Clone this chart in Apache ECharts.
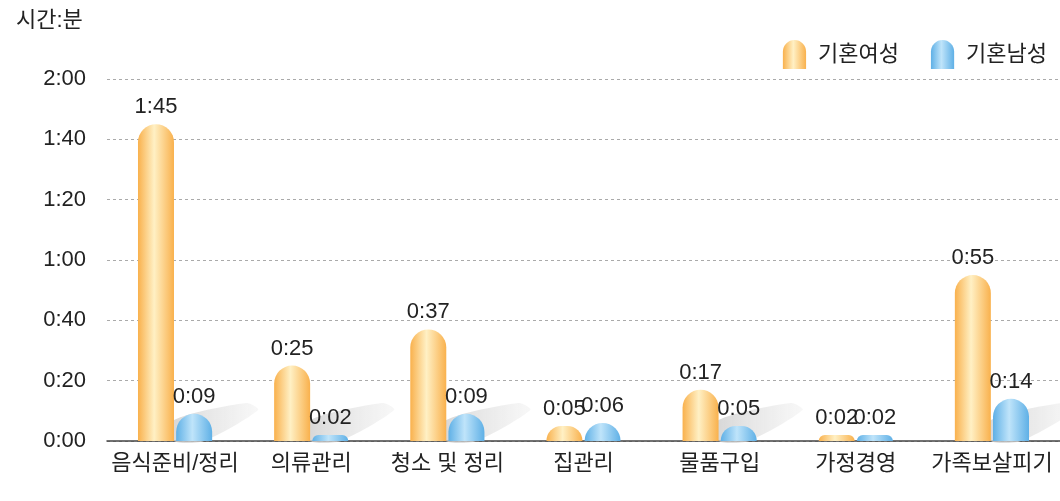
<!DOCTYPE html>
<html>
<head>
<meta charset="utf-8">
<script src="https://cdn.jsdelivr.net/npm/echarts@6/dist/echarts.min.js"></script>
<style>
  html, body { margin: 0; padding: 0; background: #fff; }
  #chart { width: 1060px; height: 501px; }
</style>
</head>
<body>
<div id="chart"></div>
<script>
// 시간 (분 단위)
const categories = ['음식준비/정리', '의류관리', '청소 및 정리', '집관리', '물품구입', '가정경영', '가족보살피기']
const women = [105, 25, 37, 5, 17, 2, 55]
const men = [9, 2, 9, 6, 5, 2, 14]
const yTicks = [0, 20, 40, 60, 80, 100, 120]

const FONT = '"Liberation Sans", "Noto Sans CJK KR", sans-serif'
const BAR_W = 36

function hm (v) {
  const h = Math.floor(v / 60)
  const m = v % 60
  return h + ':' + (m < 10 ? '0' + m : m)
}

function barGrad (edge, mid) {
  return new echarts.graphic.LinearGradient(0, 0, 1, 0, [
    { offset: 0, color: edge },
    { offset: 0.45, color: mid },
    { offset: 1, color: edge }
  ])
}

const orange = barGrad('#f9b14d', '#fff0c4')
const blue = barGrad('#5fb0e6', '#bfe4fa')
const iconPath = 'path://M0,12 A12,12 0 0 1 24,12 L24,30 L0,30 Z'

// 막대 뒤 회색 그림자
function shadowItem (params, api) {
  const v = api.value(1)
  const base = api.coord([api.value(0), 0])
  const top = api.coord([api.value(0), v])
  const barPx = base[1] - top[1]
  if (barPx < 30) return null
  const hs = Math.min(barPx, 38)
  const x0 = base[0] - 1
  const y0 = base[1]
  return {
    type: 'polygon',
    shape: {
      points: [
        [x0, y0 - hs * 0.55],
        [x0 + 72, y0 - hs],
        [x0 + 84, y0 - hs + 7],
        [x0 + 30, y0],
        [x0, y0]
      ],
      smooth: 0.25
    },
    style: {
      fill: new echarts.graphic.LinearGradient(0, 0, 1, 0, [
        { offset: 0, color: 'rgba(205,205,205,0.8)' },
        { offset: 1, color: 'rgba(240,240,240,0.5)' }
      ])
    },
    z2: 0
  }
}

const chart = echarts.init(document.getElementById('chart'))
chart.setOption({
  animation: false,
  textStyle: { fontFamily: FONT },
  graphic: [{
    type: 'text', left: 16, top: 10,
    style: { text: '시간:분', font: '22px ' + FONT, fill: '#222' }
  }],
  legend: {
    right: 8, top: 35,
    itemWidth: 25, itemHeight: 29, itemGap: 32,
    textStyle: { fontSize: 22, color: '#222', fontFamily: FONT, padding: [0, 0, 0, 6] },
    data: [
      { name: '기혼여성', icon: iconPath, itemStyle: { color: orange } },
      { name: '기혼남성', icon: iconPath, itemStyle: { color: blue } }
    ]
  },
  grid: { left: 107, right: 0, top: 79, bottom: 60 },
  xAxis: {
    type: 'category',
    data: categories,
    axisTick: { show: false },
    axisLine: { lineStyle: { color: '#444', width: 1.5 } },
    axisLabel: { interval: 0, fontSize: 22, color: '#222', margin: 12, fontFamily: FONT }
  },
  yAxis: {
    type: 'value',
    min: 0, max: 120, interval: 20,
    axisLine: { show: false },
    axisTick: { show: false },
    axisLabel: {
      fontSize: 22, color: '#222', margin: 21, fontFamily: FONT,
      formatter: v => yTicks.includes(v) ? hm(v) : ''
    },
    splitLine: { lineStyle: { color: '#aaa', type: [3, 3], width: 1 } }
  },
  series: [
    {
      name: 'shadow',
      type: 'custom',
      renderItem: shadowItem,
      data: women.map((v, i) => [i, v]),
      z: 1,
      silent: true
    },
    {
      name: '기혼여성',
      type: 'bar',
      data: women,
      barWidth: BAR_W,
      barGap: '6%',
      z: 3,
      itemStyle: { color: orange, borderRadius: [18, 18, 0, 0] },
      label: {
        show: true, position: 'top', distance: 6,
        fontSize: 22, color: '#222', fontFamily: FONT,
        formatter: p => hm(p.value)
      }
    },
    {
      name: '기혼남성',
      type: 'bar',
      data: men,
      barWidth: BAR_W,
      z: 3,
      itemStyle: { color: blue, borderRadius: [18, 18, 0, 0] },
      label: {
        show: true, position: 'top', distance: 6,
        fontSize: 22, color: '#222', fontFamily: FONT,
        formatter: p => hm(p.value)
      }
    }
  ]
})
</script>
</body>
</html>
